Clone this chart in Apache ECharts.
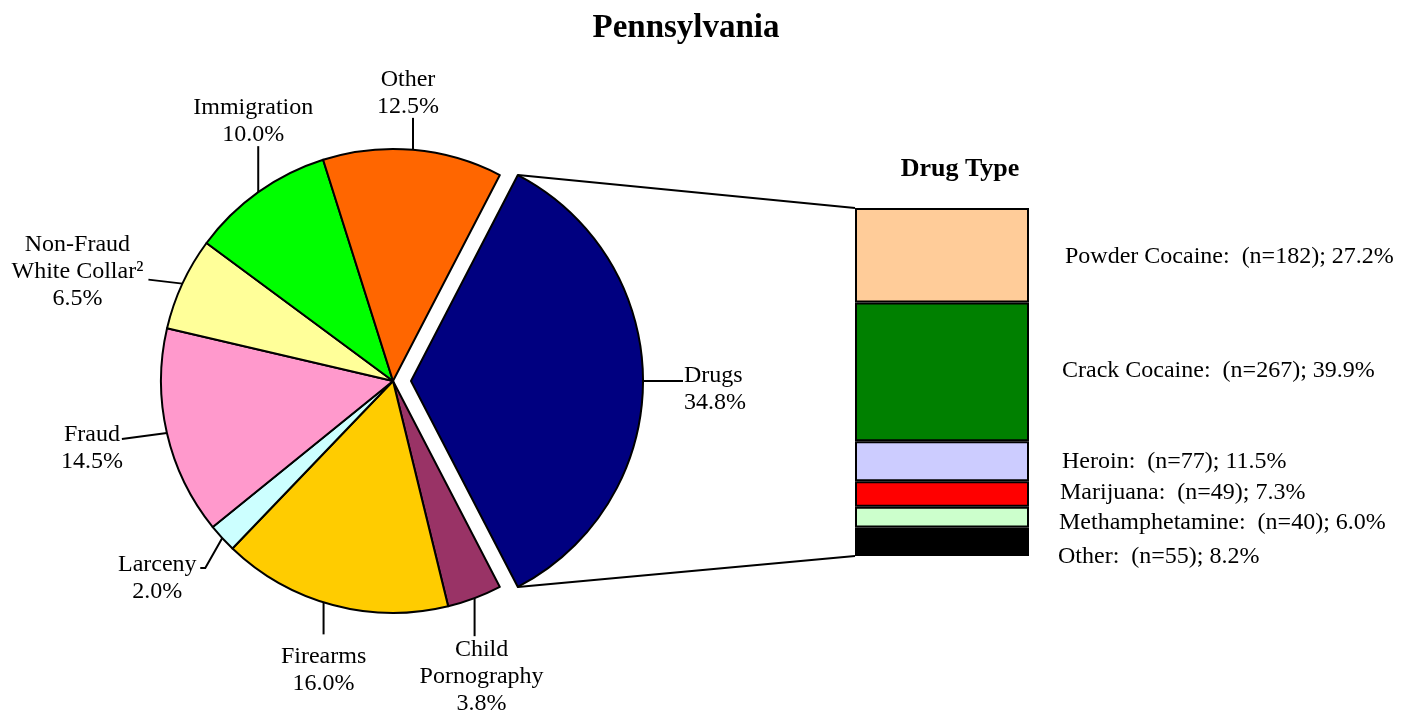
<!DOCTYPE html>
<html><head><meta charset="utf-8">
<script src="https://cdn.jsdelivr.net/npm/echarts@6/dist/echarts.min.js"></script>
<style>html,body{margin:0;padding:0;background:#fff}#c{width:1408px;height:715px}</style>
</head><body><div id="c"></div>
<script>
// ---- data ----
const offenseNames = ['Drugs', 'Child\nPornography', 'Firearms', 'Larceny', 'Fraud', 'Non-Fraud\nWhite Collar²', 'Immigration', 'Other'];
const offensePcts = [34.8, 3.8, 16.0, 2.0, 14.5, 6.5, 10.0, 12.5];
const drugNames = ['Powder Cocaine', 'Crack Cocaine', 'Heroin', 'Marijuana', 'Methamphetamine', 'Other'];
const drugCounts = [182, 267, 77, 49, 40, 55];
const drugPcts = [27.2, 39.9, 11.5, 7.3, 6.0, 8.2];

// ---- styles / layout ----
const offenseColors = ['#000080', '#993366', '#FFCC00', '#CCFFFF', '#FF99CC', '#FFFF99', '#00FF00', '#FF6600'];
const drugColors = ['#FFCC99', '#008000', '#CCCCFF', '#FF0000', '#CCFFCC', '#000000'];
const barLabelOffset = [[4, 1], [1, -1], [1, 0], [-1, -1], [-2, 6], [-3, 15]];
const FONT = "'Liberation Serif', 'Times New Roman', serif";
const PIE_CX = 393, PIE_CY = 381, PIE_R = 232, EXPLODE = 18;
// leader line geometry per slice: da = anchor angle shift, line = first segment, tail = second segment, lab = label centre offset
const labelGeom = [
  null,
  { da: 0, line: [0, 38], lab: [7, 41] },
  { da: -2.4, line: [0, 32], lab: [0, 36] },
  { da: 0, line: [-17, 30], tail: [-5, 0], lab: [-43, 10] },
  { da: 0, line: [-45, 6], lab: [-30, 9] },
  { da: 0, line: [-34, -4], lab: [-71, -8] },
  { da: 0, line: [0, -46], lab: [-5, -25] },
  { da: 0, line: [0, -32], lab: [-5, -25] }
];

const total = offensePcts.reduce((a, b) => a + b, 0);
const startAngle = 180 * offensePcts[0] / total;
const midAngles = [];
(function () {
  let acc = startAngle;
  offensePcts.forEach(p => { const span = 360 * p / total; midAngles.push(acc - span / 2); acc -= span; });
})();

const pieData = offenseNames.map((n, i) => {
  const d = { name: n, value: offensePcts[i], itemStyle: { color: offenseColors[i] } };
  if (i === 0) {
    d.selected = true;
    d.labelLine = { length: 22, length2: 18 };
    d.label = { distanceToLabelLine: 1 };
  }
  return d;
});

const drugTotal = drugCounts.reduce((a, b) => a + b, 0);
const barSeries = [];
for (let i = drugNames.length - 1; i >= 0; i--) {
  barSeries.push({
    type: 'bar', name: drugNames[i], stack: 'drug', barWidth: '100%',
    xAxisIndex: 0, yAxisIndex: 0,
    data: [drugCounts[i]],
    itemStyle: { color: drugColors[i], borderColor: '#000', borderWidth: 2 },
    emphasis: { disabled: true },
    label: {
      show: true, position: 'right', distance: 32, offset: barLabelOffset[i],
      fontFamily: FONT, fontSize: 24, color: '#000',
      formatter: drugNames[i] + ':  (n=' + drugCounts[i] + '); ' + drugPcts[i].toFixed(1) + '%'
    }
  });
}

const chart = echarts.init(document.getElementById('c'), null, { renderer: 'canvas' });
const option = {
  animation: false,
  backgroundColor: '#fff',
  title: [
    { text: 'Pennsylvania', left: 681, top: 7, textAlign: 'center',
      textStyle: { fontFamily: FONT, fontSize: 33, fontWeight: 'bold', color: '#000' } },
    { text: 'Drug Type', left: 955, top: 151, textAlign: 'center',
      textStyle: { fontFamily: FONT, fontSize: 26, fontWeight: 'bold', color: '#000' } }
  ],
  grid: { left: 855, top: 208, width: 174, height: 348 },
  xAxis: { type: 'category', data: ['Drugs'], show: false },
  yAxis: { type: 'value', min: 0, max: drugTotal, show: false },
  series: [
    {
      type: 'pie', center: [PIE_CX, PIE_CY], radius: PIE_R,
      startAngle: startAngle, clockwise: true,
      selectedMode: 'single', selectedOffset: EXPLODE,
      avoidLabelOverlap: false,
      data: pieData,
      itemStyle: { borderColor: '#000', borderWidth: 2 },
      select: { itemStyle: { borderColor: '#000', borderWidth: 2 } },
      emphasis: { disabled: true },
      label: {
        show: true, position: 'outside', fontFamily: FONT, fontSize: 24, lineHeight: 27, color: '#000',
        formatter: p => p.name + '\n' + p.value.toFixed(1) + '%'
      },
      labelLine: { show: true, length: 20, length2: 10, smooth: false, lineStyle: { color: '#000', width: 2 } },
      labelLayout: function (params) {
        const i = params.dataIndex;
        const g = labelGeom[i];
        if (!g) return { dy: 8 };
        const a = (midAngles[i] + g.da) * Math.PI / 180;
        const p0 = [PIE_CX + PIE_R * Math.cos(a), PIE_CY - PIE_R * Math.sin(a)];
        const p1 = [p0[0] + g.line[0], p0[1] + g.line[1]];
        const p2 = g.tail ? [p1[0] + g.tail[0], p1[1] + g.tail[1]] : p1.slice();
        return { x: p2[0] + g.lab[0], y: p2[1] + g.lab[1], align: 'center', verticalAlign: 'middle', labelLinePoints: [p0, p1, p2] };
      }
    }
  ].concat(barSeries)
};
chart.setOption(option);

// connector lines from exploded slice to the bar
(function () {
  let rect;
  try { rect = chart.getModel().getComponent('grid', 0).coordinateSystem.getRect(); } catch (e) { rect = null; }
  if (!rect) {
    const top = chart.convertToPixel({ yAxisIndex: 0 }, drugTotal);
    const bot = chart.convertToPixel({ yAxisIndex: 0 }, 0);
    rect = { x: 855, y: top, width: 174, height: bot - top };
  }
  const a0 = startAngle * Math.PI / 180;
  const ox = EXPLODE; // drugs slice centred on 0 degrees
  const pTop = [PIE_CX + ox + PIE_R * Math.cos(a0), PIE_CY - PIE_R * Math.sin(a0)];
  const pBot = [PIE_CX + ox + PIE_R * Math.cos(a0), PIE_CY + PIE_R * Math.sin(a0)];
  chart.setOption({
    graphic: [
      { type: 'line', shape: { x1: pTop[0], y1: pTop[1], x2: rect.x, y2: rect.y }, style: { stroke: '#000', lineWidth: 2 }, z: 10 },
      { type: 'line', shape: { x1: pBot[0], y1: pBot[1], x2: rect.x, y2: rect.y + rect.height }, style: { stroke: '#000', lineWidth: 2 }, z: 10 }
    ]
  });
})();
</script>
</body></html>
